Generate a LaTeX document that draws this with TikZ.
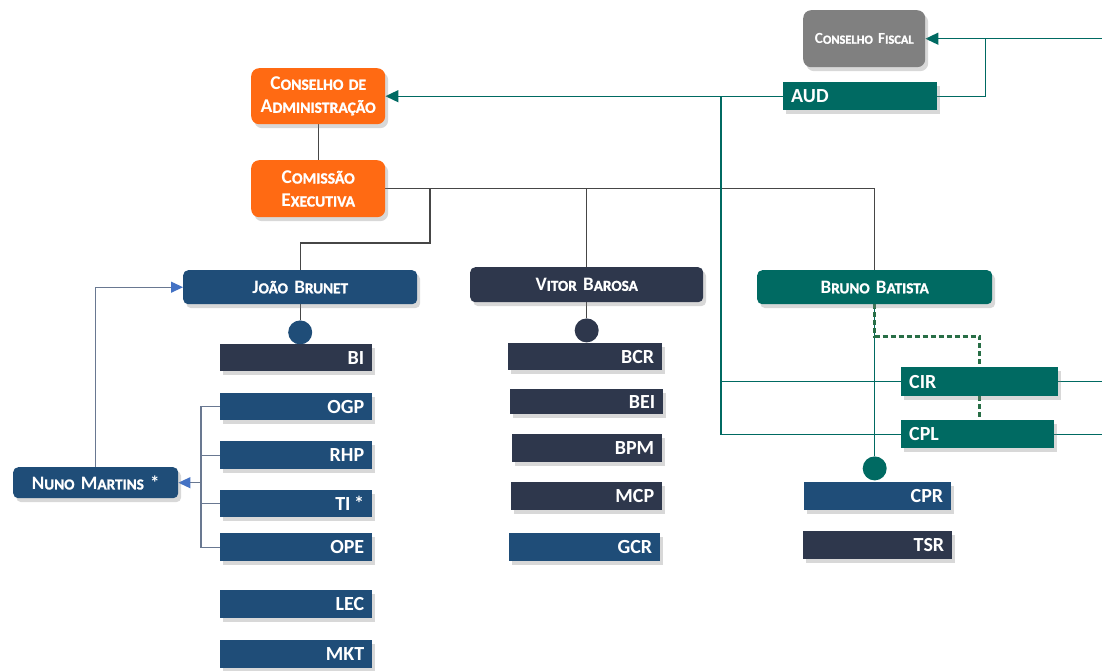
\documentclass[tikz,border=0pt]{standalone}
\usepackage{fontspec}
\setmainfont{Carlito}
\newfontfamily\smcfont[BoldFeatures={FakeBold=1.4}]{Carlito}
\usetikzlibrary{arrows.meta,shadows,calc,backgrounds}
\definecolor{orgorange}{RGB}{255,106,19}
\definecolor{orggrey}{RGB}{128,128,128}
\definecolor{orgteal}{RGB}{0,106,98}
\definecolor{orgnavy}{RGB}{31,77,120}
\definecolor{orgslate}{RGB}{46,55,76}
\definecolor{orgline}{RGB}{70,70,70}
\definecolor{orgblue}{RGB}{68,114,196}
\definecolor{orgbrk}{RGB}{105,120,145}
\definecolor{orgdash}{RGB}{40,110,70}
\newcommand{\smc}[2]{#1{\smcfont\bfseries\scalebox{0.8}{#2}}}

\begin{document}
\begin{tikzpicture}[x=1pt,y=1pt,yscale=-1,
  box/.style={rectangle, anchor=north west, inner xsep=8pt, inner ysep=0pt, text=white,
    font=\fontsize{20}{23}\selectfont\bfseries,
    drop shadow={opacity=0.3, shadow xshift=3pt, shadow yshift=-4pt}},
  unitbox/.style={box, align=right, minimum height=28pt},
  leftunit/.style={box, align=left, minimum height=28pt},
  lead/.style={box, rounded corners=5pt, align=center, inner xsep=4pt,
    font=\fontsize{19}{21}\selectfont\bfseries},
  jointdot/.style={circle, inner sep=0pt, minimum size=24pt},
  execline/.style={orgline, line width=1.1pt},
  tealline/.style={orgteal, line width=1.4pt},
  navline/.style={orgbrk, line width=1.1pt},
  dashlink/.style={orgdash, line width=2.6pt, dash pattern=on 5pt off 3pt},
  tealarr/.style={-{Triangle[length=13pt,width=12pt]}},
  bluearr/.style={-{Triangle[length=12pt,width=11pt,color=orgblue]}}
]
\useasboundingbox (0,0) rectangle (1102,670);
\begin{scope}[on background layer]
\fill[white] (0,0) rectangle (1102,670);
\end{scope}

% board
\node[lead, fill=orggrey, text width=114pt, minimum height=57pt, rounded corners=8pt,
  font=\fontsize{15.5}{18}\selectfont\bfseries] (cf) at (803,10) {\smc{C}{ONSELHO} \smc{F}{ISCAL}};
\node[leftunit, fill=orgteal, text width=138pt] (aud) at (783,82) {AUD};
\node[lead, fill=orgorange, text width=126pt, minimum height=56pt, rounded corners=8pt,
  font=\fontsize{19.5}{23}\selectfont\bfseries] (ca) at (251,68) {\smc{C}{ONSELHO DE}\\\smc{A}{DMINISTRAÇÃO}};
\node[lead, fill=orgorange, text width=126pt, minimum height=57pt, rounded corners=8pt,
  font=\fontsize{19.5}{23}\selectfont\bfseries] (ce) at (251,160) {\smc{C}{OMISSÃO}\\\smc{E}{XECUTIVA}};

% directors
\node[lead, fill=orgnavy, text width=226pt, minimum height=34pt] (jb) at (183,270) {\smc{J}{OÃO} \smc{B}{RUNET}};
\node[lead, fill=orgslate, text width=225pt, minimum height=35pt] (vb) at (470,267) {\smc{V}{ITOR} \smc{B}{AROSA}};
\node[lead, fill=orgteal, text width=227pt, minimum height=34pt] (bb) at (757,270) {\smc{B}{RUNO} \smc{B}{ATISTA}};
\node[lead, fill=orgnavy, text width=157pt, minimum height=31pt] (nm) at (13,467) {\smc{N}{UNO} \smc{M}{ARTINS} *};

% dots
\node[jointdot, fill=orgnavy] (jbdot) at ($(jb.south)+(0,28)$) {};
\node[jointdot, fill=orgslate] (vbdot) at ($(vb.south)+(0,28)$) {};
\node[jointdot, fill=orgteal] (bbdot) at ($(bb.south)+(0,164)$) {};

% units
\node[unitbox, fill=orgslate, text width=136pt, minimum height=27pt] (bi) at (220,344) {BI};
\node[unitbox, fill=orgnavy, text width=136pt, minimum height=27pt] (ogp) at (220,393) {OGP};
\node[unitbox, fill=orgnavy, text width=136pt] (rhp) at (220,441) {RHP};
\node[unitbox, fill=orgnavy, text width=136pt, minimum height=27pt] (ti) at (220,490) {TI \kern-3pt*};
\node[unitbox, fill=orgnavy, text width=136pt] (ope) at (220,533) {OPE};
\node[unitbox, fill=orgnavy, text width=136pt] (lec) at (220,590) {LEC};
\node[unitbox, fill=orgnavy, text width=136pt] (mkt) at (220,640) {MKT};

\node[unitbox, fill=orgslate, text width=138pt, minimum height=27pt] (bcr) at (508,343) {BCR};
\node[unitbox, fill=orgslate, text width=137pt, minimum height=25pt] (bei) at (510,389) {BEI};
\node[unitbox, fill=orgslate, text width=134pt] (bpm) at (512,434) {BPM};
\node[unitbox, fill=orgslate, text width=135pt] (mcp) at (511,482) {MCP};
\node[unitbox, fill=orgnavy, text width=135pt] (gcr) at (509,533) {GCR};

\node[leftunit, fill=orgteal, text width=141pt, minimum height=29pt] (cir) at (901,367) {CIR};
\node[leftunit, fill=orgteal, text width=137pt] (cpl) at (901,420) {CPL};
\node[unitbox, fill=orgnavy, text width=131pt] (cpr) at (804,482) {CPR};
\node[unitbox, fill=orgslate, text width=133pt] (tsr) at (803,531) {TSR};

\begin{scope}[on background layer]
% executive lines
\draw[execline] (ca.south) -- (ce.north);
\draw[execline] (ce.east) -- (ce.east -| bb.north) -- (bb.north);
\draw[execline] (ce.east -| vb.north) -- (vb.north);
\coordinate (jbturn) at (430,243);
\draw[execline] (ce.east -| jbturn) |- (jbturn -| jb.north) -- (jb.north);
\draw[execline] (jb.south) -- (jbdot);
\draw[execline] (vb.south) -- (vbdot);
\draw[tealline] (bb.south) -- (bbdot);
\draw[dashlink] (bb.south) -- ++(0,32) -| (cir.north);
\draw[dashlink] (cir.south) -- (cir.south |- cpl.north);

% audit lines
\coordinate (audsplit) at (721,96);
\coordinate (rimtop) at (1102,40);
\draw[tealline, tealarr] (aud.west) -- (ca.east);
\draw[tealline] (audsplit) |- (cpl.west);
\draw[tealline] (audsplit |- cir.west) -- (cir.west);
\draw[tealline, tealarr] (rimtop |- cf.east) -- (cf.east);
\draw[tealline] (aud.east) -| ($(cf.east)+(60,0)$);
\draw[tealline] (cir.east) -- (cir.east -| rimtop);
\draw[tealline] (cpl.east) -- (cpl.east -| rimtop);

% Nuno Martins
\coordinate (brk) at (201,0);
\draw[navline] (ogp.west) -| (brk |- ope.west) -- (ope.west);
\draw[navline] (brk |- rhp.west) -- (rhp.west);
\draw[navline] (brk |- ti.west) -- (ti.west);
\draw[navline, bluearr] (brk |- nm.east) -- (nm.east);
\draw[navline, bluearr] (nm.north) |- (jb.west);
\end{scope}
\end{tikzpicture}
\end{document}
